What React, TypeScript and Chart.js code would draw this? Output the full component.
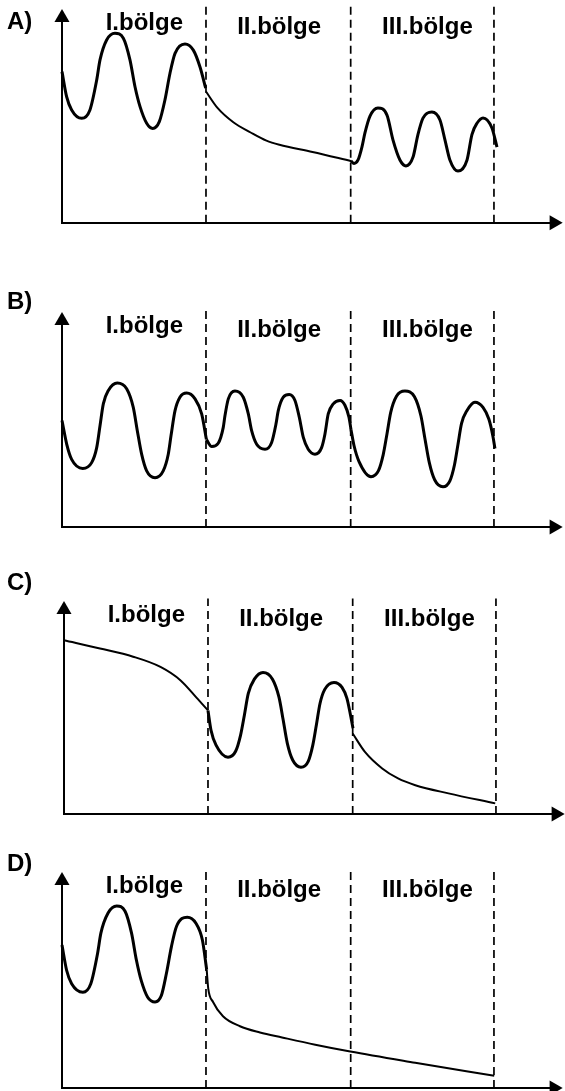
import React, { useEffect, useRef } from 'react';
import { Chart, registerables } from 'chart.js';

Chart.register(...registerables);

// ---- text ----
const regionLabels = ['I.bölge', 'II.bölge', 'III.bölge'];
const panelLetters = ['A)', 'B)', 'C)', 'D)'];

// ---- axes (x: time units, regions are 0-10, 10-20, 20-30; y: 0-100) ----
const boundaryX = [10, 20.05, 30];
const xMax = 34.17;
const yMax = 100;
const dashTop = 105.5;
const labelCenterX = [5.72, 15.08, 25.38];

// ---- panel A ----
const aWave1X = [0, 0.32, 0.67, 1.37, 1.94, 2.41, 2.64, 3.1, 3.68, 4.26, 4.72, 5.07, 5.42, 5.88, 6.3, 6.76, 7.15, 7.5, 7.85, 8.54, 9.12, 9.58, 9.98];
const aWave1Y = [73.7, 61.5, 55.0, 50.9, 55.0, 69.6, 79.4, 89.1, 92.4, 90.0, 79.4, 66.3, 56.6, 48.5, 46.0, 49.3, 59.9, 72.9, 82.6, 87.2, 84.2, 76.1, 65.6];
const aDecay2X = [10, 10.8, 11.9, 13.1, 14.2, 15.1, 17.4, 20.1];
const aDecay2Y = [64, 56, 49, 44, 40, 38, 34.5, 30];
const aWave3X = [20.07, 20.28, 20.56, 20.83, 21.04, 21.39, 21.94, 22.57, 22.99, 23.47, 23.89, 24.38, 24.72, 25.07, 25.69, 26.25, 26.6, 26.94, 27.5, 28.13, 28.47, 28.82, 29.24, 29.86, 30.21];
const aWave3Y = [30.1, 28.9, 30.6, 36.9, 43.8, 52.0, 56.0, 52.5, 40.3, 30.6, 27.7, 32.0, 43.0, 51.0, 54.0, 50.1, 40.3, 30.6, 25.2, 30.6, 43.0, 48.5, 51.1, 46.2, 36.9];

// ---- panel B ----
const bWave1X = [0, 0.33, 0.67, 1.44, 2.06, 2.41, 2.64, 2.87, 3.22, 3.84, 4.49, 4.95, 5.23, 5.53, 5.88, 6.46, 7.03, 7.38, 7.57, 7.85, 8.19, 8.66, 9.24, 9.7, 10.03];
const bWave1Y = [51.6, 40.1, 32.8, 28.4, 31.2, 38.5, 49.1, 59.7, 66.2, 69.8, 67.0, 58.0, 46.7, 35.3, 27.2, 23.9, 27.2, 35.3, 44.2, 56.4, 62.9, 64.9, 62.1, 54.8, 42.4];
const bWave2X = [10.03, 10.4, 10.85, 11.2, 11.32, 11.55, 12.01, 12.59, 12.94, 13.17, 13.52, 14.1, 14.56, 14.86, 15.02, 15.37, 15.78, 16.18, 16.48, 16.76, 17.1, 17.57, 18.03, 18.26, 18.49, 18.84, 19.31, 19.65, 19.93, 20.07];
const bWave2Y = [42.4, 39.0, 40.6, 48.3, 54.0, 62.1, 65.9, 62.9, 54.8, 46.7, 40.1, 37.7, 41.0, 49.9, 56.4, 62.9, 64.2, 61.3, 53.2, 43.4, 37.7, 35.3, 38.5, 45.0, 54.8, 59.7, 61.3, 59.0, 53.2, 47.3];
const bWave3X = [20.07, 20.28, 20.63, 21.46, 21.98, 22.31, 22.57, 22.83, 23.23, 23.82, 24.48, 24.93, 25.21, 25.51, 25.88, 26.46, 26.94, 27.26, 27.5, 27.75, 28.13, 28.68, 29.24, 29.65, 29.93, 30.07];
const bWave3Y = [47.3, 39.5, 31.7, 24.4, 27.3, 35.1, 45.1, 55.6, 63.4, 65.9, 63.1, 53.8, 42.7, 31.2, 22.9, 19.5, 22.4, 30.2, 40.0, 50.2, 56.5, 60.5, 58.0, 52.2, 43.9, 38.0];

// ---- panel C ----
const cDecay1X = [0, 2.5, 4.8, 6.7, 8.1, 9.2, 10];
const cDecay1Y = [85, 81, 77, 72, 65.4, 57, 50.7];
const cWave2X = [10.0, 10.21, 10.56, 11.39, 11.92, 12.26, 12.53, 12.8, 13.22, 13.82, 14.48, 14.93, 15.22, 15.51, 15.89, 16.46, 16.97, 17.28, 17.53, 17.78, 18.11, 18.75, 19.31, 19.65, 19.86, 20.07];
const cWave2Y = [50.7, 41.0, 33.7, 27.8, 30.7, 38.5, 48.5, 59.0, 66.0, 69.3, 66.0, 57.2, 46.1, 34.6, 26.3, 22.9, 25.9, 33.7, 43.7, 54.1, 61.0, 64.4, 62.0, 56.6, 49.8, 42.0];
const cDecay3X = [20.05, 20.9, 22.1, 23.2, 24.4, 26.7, 29.95];
const cDecay3Y = [39.4, 30.4, 22.3, 17.4, 14.1, 10.1, 5.2];

// ---- panel D ----
const dWave1X = [0, 0.32, 0.67, 1.45, 2.0, 2.47, 2.7, 3.2, 3.8, 4.38, 4.83, 5.17, 5.5, 5.95, 6.46, 6.9, 7.25, 7.6, 7.95, 8.7, 9.3, 9.75, 10.05];
const dWave1Y = [69.0, 56.8, 50.3, 46.2, 50.3, 64.9, 74.7, 84.4, 87.8, 85.3, 74.7, 61.6, 51.9, 43.8, 41.5, 44.6, 55.2, 68.2, 77.9, 82.4, 79.5, 71.4, 57.0];
const dDecay2X = [10.05, 10.16, 10.49, 11.18, 12.36, 13.75, 15.28, 17.59, 20.02, 24.53, 30.02];
const dDecay2Y = [57.0, 47.8, 41.5, 34.6, 29.8, 26.8, 24.4, 20.9, 17.6, 12.2, 5.9];

type Segment = { xs: number[]; ys: number[]; thick: boolean };
type PanelCfg = {
  letter: string;
  top: number;
  height: number;
  padLeft: number;
  padRight: number;
  padTop: number;
  padBottom: number;
  letterX: number;
  letterY: number;
  segments: Segment[];
};

const FONT = 'bold 24px "Liberation Sans", Arial, Helvetica, sans-serif';

const panels: PanelCfg[] = [
  {
    letter: panelLetters[0], top: 0, height: 265, padLeft: 62, padRight: 11, padTop: 17.7, padBottom: 42.3,
    letterX: 7, letterY: 28.5,
    segments: [
      { xs: aWave1X, ys: aWave1Y, thick: true },
      { xs: aDecay2X, ys: aDecay2Y, thick: false },
      { xs: aWave3X, ys: aWave3Y, thick: true },
    ],
  },
  {
    letter: panelLetters[1], top: 280, height: 265, padLeft: 62, padRight: 11, padTop: 40.7, padBottom: 18,
    letterX: 7, letterY: 29,
    segments: [
      { xs: bWave1X, ys: bWave1Y, thick: true },
      { xs: bWave2X, ys: bWave2Y, thick: true },
      { xs: bWave3X, ys: bWave3Y, thick: true },
    ],
  },
  {
    letter: panelLetters[2], top: 555, height: 270, padLeft: 64, padRight: 9, padTop: 54.7, padBottom: 11,
    letterX: 7, letterY: 35,
    segments: [
      { xs: cDecay1X, ys: cDecay1Y, thick: false },
      { xs: cWave2X, ys: cWave2Y, thick: true },
      { xs: cDecay3X, ys: cDecay3Y, thick: false },
    ],
  },
  {
    letter: panelLetters[3], top: 840, height: 251, padLeft: 62, padRight: 11, padTop: 40.7, padBottom: 3,
    letterX: 7, letterY: 31,
    segments: [
      { xs: dWave1X, ys: dWave1Y, thick: true },
      { xs: dDecay2X, ys: dDecay2Y, thick: false },
    ],
  },
];

const toPoints = (xs: number[], ys: number[]) => xs.map((x, i) => ({ x, y: ys[i] }));

const textPlugin = {
  id: 'panelText',
  afterDraw(chart: any, _args: any, opts: any) {
    const { ctx, chartArea, scales } = chart;
    ctx.save();
    ctx.fillStyle = '#000';
    ctx.font = FONT;
    ctx.textBaseline = 'alphabetic';
    ctx.textAlign = 'left';
    ctx.fillText(opts.letter, opts.letterX, opts.letterY);
    ctx.textAlign = 'center';
    regionLabels.forEach((t, i) => {
      const dy = i === 0 ? 12 : 15.8;
      ctx.fillText(t, scales.x.getPixelForValue(labelCenterX[i]), chartArea.top + dy);
    });
    ctx.restore();
  },
};

function Panel({ cfg }: { cfg: PanelCfg }) {
  const ref = useRef<HTMLCanvasElement>(null);
  useEffect(() => {
    if (!ref.current) return;
    const datasets: any[] = [];
    boundaryX.forEach((bx) => {
      datasets.push({
        data: [{ x: bx, y: 0 }, { x: bx, y: dashTop }],
        borderColor: '#000',
        borderWidth: 1.7,
        borderDash: [8, 5],
        pointRadius: 0,
        tension: 0,
        clip: false,
      });
    });
    cfg.segments.forEach((s) => {
      datasets.push({
        data: toPoints(s.xs, s.ys),
        borderColor: '#000',
        borderWidth: s.thick ? 3 : 2,
        borderJoinStyle: 'round',
        pointRadius: 0,
        cubicInterpolationMode: 'monotone',
        clip: false,
      });
    });
    datasets.push({
      data: [{ x: 0, y: yMax }],
      showLine: false,
      pointStyle: 'triangle',
      pointRadius: 8.7,
      pointRotation: 0,
      pointBackgroundColor: '#000',
      pointBorderWidth: 0,
      clip: false,
    });
    datasets.push({
      data: [{ x: xMax, y: 0 }],
      showLine: false,
      pointStyle: 'triangle',
      pointRadius: 8.7,
      pointRotation: 90,
      pointBackgroundColor: '#000',
      pointBorderWidth: 0,
      clip: false,
    });
    const chart = new Chart(ref.current, {
      type: 'line',
      data: { datasets },
      options: {
        responsive: false,
        animation: false,
        events: [],
        layout: {
          autoPadding: false,
          padding: { left: cfg.padLeft, right: cfg.padRight, top: cfg.padTop, bottom: cfg.padBottom },
        },
        plugins: {
          legend: { display: false },
          tooltip: { enabled: false },
          title: { display: false },
          panelText: { letter: cfg.letter, letterX: cfg.letterX, letterY: cfg.letterY },
        } as any,
        scales: {
          x: {
            type: 'linear', min: 0, max: xMax,
            grid: { display: false, drawTicks: false },
            ticks: { display: false },
            border: { display: true, color: '#000', width: 2 },
          },
          y: {
            type: 'linear', min: 0, max: yMax,
            grid: { display: false, drawTicks: false },
            ticks: { display: false },
            border: { display: true, color: '#000', width: 2 },
          },
        },
      } as any,
      plugins: [textPlugin as any],
    });
    return () => chart.destroy();
  }, [cfg]);
  return (
    <canvas
      ref={ref}
      width={565}
      height={cfg.height}
      style={{ position: 'absolute', left: 0, top: cfg.top, width: 565, height: cfg.height }}
    />
  );
}

export default function App() {
  return (
    <div style={{ position: 'absolute', left: 0, top: 0, width: 565, height: 1091, background: '#fff', overflow: 'hidden' }}>
      {panels.map((p) => (
        <Panel key={p.letter} cfg={p} />
      ))}
    </div>
  );
}
